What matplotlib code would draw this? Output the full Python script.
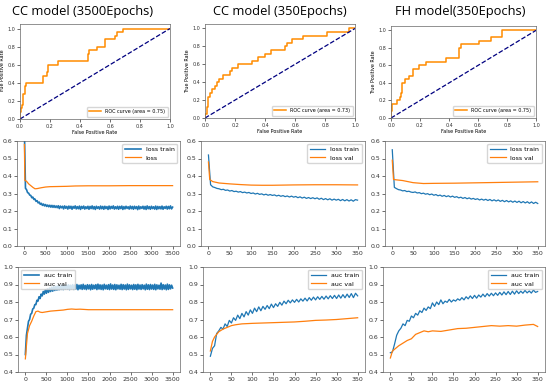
import numpy as np
import matplotlib.pyplot as plt

# ROC curves (fpr, tpr step points)
roc_a_fpr = [0, 0, 0.005, 0.01, 0.02, 0.03, 0.04, 0.155, 0.18, 0.185, 0.25, 0.45, 0.458, 0.51, 0.565, 0.63, 0.645, 0.685, 1.0]
roc_a_tpr = [0, 0.08, 0.12, 0.16, 0.28, 0.36, 0.40, 0.48, 0.52, 0.60, 0.64, 0.72, 0.76, 0.80, 0.88, 0.92, 0.96, 1.0, 1.0]
roc_b_fpr = [0, 0, 0.015, 0.02, 0.03, 0.045, 0.065, 0.08, 0.095, 0.12, 0.165, 0.18, 0.22, 0.31, 0.35, 0.40, 0.44, 0.53, 0.545, 0.58, 0.65, 0.81, 0.96, 1.0]
roc_b_tpr = [0, 0.04, 0.12, 0.24, 0.28, 0.32, 0.36, 0.40, 0.44, 0.48, 0.52, 0.56, 0.60, 0.64, 0.68, 0.72, 0.76, 0.80, 0.84, 0.88, 0.92, 0.96, 1.0, 1.0]
roc_c_fpr = [0, 0, 0.005, 0.01, 0.04, 0.065, 0.07, 0.075, 0.095, 0.125, 0.15, 0.155, 0.19, 0.24, 0.38, 0.47, 0.48, 0.61, 0.69, 0.765, 1.0]
roc_c_tpr = [0, 0.08, 0.12, 0.16, 0.20, 0.24, 0.28, 0.40, 0.44, 0.48, 0.52, 0.56, 0.60, 0.64, 0.68, 0.80, 0.84, 0.88, 0.92, 1.0, 1.0]
roc_auc = [0.75, 0.73, 0.75]

titles = ['CC model (3500Epochs)', 'CC model (350Epochs)', 'FH model(350Epochs)']

# CC model, 3500 epochs (train sampled every 25 epochs)
ep_a = np.arange(0, 3501, 25)
loss_train_a = [0.66, 0.33, 0.322, 0.305, 0.302, 0.291, 0.289, 0.276, 0.279, 0.266,
                0.268, 0.255, 0.259, 0.246, 0.251, 0.238, 0.244, 0.232, 0.240, 0.229,
                0.237, 0.226, 0.234, 0.224, 0.233, 0.222, 0.232, 0.221, 0.231, 0.220,
                0.229, 0.219, 0.230, 0.214, 0.228, 0.218, 0.227, 0.212, 0.229, 0.216,
                0.226, 0.211, 0.228, 0.215, 0.227, 0.210, 0.226, 0.216, 0.229, 0.212,
                0.225, 0.213, 0.228, 0.209, 0.226, 0.215, 0.228, 0.211, 0.224, 0.214,
                0.227, 0.210, 0.226, 0.214, 0.229, 0.212, 0.225, 0.209, 0.227, 0.215,
                0.224, 0.211, 0.228, 0.213, 0.226, 0.210, 0.227, 0.214, 0.225, 0.209,
                0.228, 0.212, 0.226, 0.215, 0.229, 0.211, 0.224, 0.213, 0.227, 0.210,
                0.226, 0.214, 0.228, 0.209, 0.225, 0.212, 0.227, 0.215, 0.224, 0.211,
                0.228, 0.213, 0.226, 0.210, 0.227, 0.214, 0.225, 0.208, 0.228, 0.212,
                0.224, 0.215, 0.227, 0.211, 0.226, 0.209, 0.229, 0.213, 0.225, 0.210,
                0.227, 0.214, 0.224, 0.211, 0.228, 0.209, 0.226, 0.213, 0.225, 0.212,
                0.228, 0.210, 0.224, 0.215, 0.227, 0.211, 0.226, 0.213, 0.229, 0.212,
                0.222]
ep_val_loss_a = [0, 10, 50, 100, 150, 200, 250, 300, 400, 500, 600, 800, 1000, 1200, 1500, 2000, 2500, 3000, 3500]
loss_val_a = [0.58, 0.375, 0.37, 0.355, 0.345, 0.335, 0.327, 0.328, 0.333, 0.337, 0.339, 0.340, 0.341, 0.343, 0.344, 0.344, 0.345, 0.345, 0.345]
auc_train_a = [0.50, 0.61, 0.65, 0.69, 0.70, 0.73, 0.735, 0.76, 0.765, 0.785,
               0.785, 0.81, 0.805, 0.83, 0.82, 0.845, 0.835, 0.86, 0.845, 0.87,
               0.85, 0.875, 0.855, 0.88, 0.86, 0.885, 0.862, 0.888, 0.866, 0.89,
               0.868, 0.893, 0.870, 0.892, 0.872, 0.896, 0.871, 0.895, 0.874, 0.897,
               0.873, 0.898, 0.871, 0.896, 0.875, 0.899, 0.872, 0.897, 0.874, 0.900,
               0.870, 0.896, 0.875, 0.898, 0.872, 0.901, 0.874, 0.895, 0.871, 0.899,
               0.875, 0.897, 0.870, 0.900, 0.873, 0.896, 0.876, 0.899, 0.871, 0.902,
               0.874, 0.898, 0.872, 0.897, 0.870, 0.901, 0.875, 0.896, 0.873, 0.899,
               0.871, 0.903, 0.874, 0.897, 0.872, 0.900, 0.870, 0.898, 0.875, 0.896,
               0.873, 0.901, 0.871, 0.899, 0.874, 0.897, 0.870, 0.902, 0.872, 0.898,
               0.875, 0.896, 0.871, 0.900, 0.873, 0.898, 0.870, 0.901, 0.874, 0.897,
               0.872, 0.899, 0.875, 0.896, 0.870, 0.902, 0.873, 0.898, 0.871, 0.900,
               0.874, 0.897, 0.872, 0.901, 0.870, 0.898, 0.875, 0.896, 0.873, 0.908,
               0.871, 0.899, 0.874, 0.897, 0.870, 0.902, 0.872, 0.898, 0.875, 0.896,
               0.880]
ep_val_auc_a = [0, 25, 50, 100, 150, 200, 250, 300, 350, 400, 500, 600, 700, 800, 900, 1000, 1100, 1200, 1300, 1500, 2000, 2500, 3000, 3500]
auc_val_a = [0.475, 0.55, 0.62, 0.665, 0.69, 0.72, 0.745, 0.748, 0.742, 0.74, 0.744, 0.748, 0.75, 0.752, 0.754, 0.758, 0.760, 0.758, 0.759, 0.756, 0.756, 0.756, 0.756, 0.756]

# 350-epoch runs (train sampled every 5 epochs)
ep_b = np.arange(0, 351, 5)
loss_train_b = [0.52, 0.35, 0.338, 0.334, 0.329, 0.327, 0.322, 0.324, 0.318, 0.320,
                0.314, 0.317, 0.311, 0.313, 0.308, 0.311, 0.305, 0.308, 0.303, 0.306,
                0.300, 0.303, 0.297, 0.301, 0.295, 0.298, 0.292, 0.296, 0.290, 0.294,
                0.289, 0.292, 0.286, 0.290, 0.284, 0.288, 0.282, 0.286, 0.280, 0.285,
                0.279, 0.283, 0.276, 0.281, 0.274, 0.279, 0.272, 0.277, 0.271, 0.276,
                0.270, 0.275, 0.267, 0.273, 0.265, 0.271, 0.264, 0.270, 0.262, 0.268,
                0.262, 0.267, 0.259, 0.266, 0.258, 0.265, 0.257, 0.264, 0.256, 0.265,
                0.262]
ep_val_loss_b = [0, 3, 10, 25, 50, 75, 100, 125, 150, 175, 200, 250, 300, 350]
loss_val_b = [0.48, 0.38, 0.368, 0.36, 0.355, 0.351, 0.348, 0.347, 0.347, 0.348, 0.349, 0.350, 0.350, 0.349]
auc_train_b = [0.49, 0.535, 0.55, 0.62, 0.635, 0.655, 0.645, 0.675, 0.66, 0.695,
               0.68, 0.71, 0.695, 0.725, 0.705, 0.735, 0.715, 0.745, 0.725, 0.755,
               0.735, 0.765, 0.745, 0.772, 0.75, 0.775, 0.758, 0.78, 0.762, 0.788,
               0.768, 0.79, 0.775, 0.798, 0.782, 0.805, 0.79, 0.81, 0.795, 0.812,
               0.798, 0.815, 0.80, 0.818, 0.805, 0.822, 0.806, 0.825, 0.81, 0.828,
               0.812, 0.83, 0.815, 0.832, 0.816, 0.834, 0.818, 0.836, 0.82, 0.838,
               0.82, 0.84, 0.822, 0.842, 0.824, 0.845, 0.826, 0.848, 0.825, 0.85,
               0.835]
ep_val_auc_b = [0, 5, 10, 15, 20, 30, 40, 50, 60, 75, 100, 125, 150, 175, 200, 225, 250, 275, 300, 325, 350]
auc_val_b = [0.52, 0.575, 0.60, 0.615, 0.63, 0.645, 0.655, 0.665, 0.67, 0.675, 0.678, 0.68, 0.682, 0.684, 0.686, 0.69, 0.695, 0.697, 0.70, 0.705, 0.71]

loss_train_c = [0.55, 0.335, 0.328, 0.322, 0.320, 0.315, 0.317, 0.311, 0.313, 0.308,
                0.306, 0.309, 0.303, 0.305, 0.299, 0.302, 0.296, 0.299, 0.293, 0.297,
                0.290, 0.294, 0.287, 0.291, 0.284, 0.289, 0.282, 0.287, 0.280, 0.285,
                0.278, 0.282, 0.275, 0.279, 0.272, 0.277, 0.270, 0.275, 0.268, 0.272,
                0.266, 0.270, 0.263, 0.268, 0.262, 0.267, 0.260, 0.266, 0.258, 0.264,
                0.257, 0.263, 0.255, 0.261, 0.253, 0.260, 0.252, 0.258, 0.250, 0.257,
                0.249, 0.256, 0.247, 0.254, 0.246, 0.253, 0.244, 0.252, 0.243, 0.250,
                0.243]
ep_val_loss_c = [0, 3, 10, 25, 50, 75, 100, 150, 200, 250, 300, 350]
loss_val_c = [0.49, 0.38, 0.378, 0.374, 0.362, 0.357, 0.358, 0.359, 0.361, 0.363, 0.365, 0.367]
auc_train_c = [0.51, 0.515, 0.56, 0.61, 0.635, 0.65, 0.675, 0.665, 0.695, 0.69,
               0.72, 0.71, 0.735, 0.725, 0.75, 0.74, 0.765, 0.752, 0.772, 0.762,
               0.795, 0.775, 0.80, 0.785, 0.812, 0.79, 0.805, 0.798, 0.815, 0.80,
               0.812, 0.805, 0.818, 0.81, 0.825, 0.812, 0.83, 0.818, 0.835, 0.82,
               0.838, 0.822, 0.84, 0.828, 0.845, 0.83, 0.848, 0.834, 0.85, 0.836,
               0.852, 0.838, 0.855, 0.84, 0.858, 0.842, 0.86, 0.843, 0.862, 0.845,
               0.864, 0.848, 0.862, 0.85, 0.866, 0.852, 0.863, 0.851, 0.868, 0.855,
               0.86]
ep_val_auc_c = [0, 5, 10, 20, 30, 40, 50, 60, 70, 80, 90, 100, 120, 140, 160, 180, 200, 220, 240, 260, 280, 300, 320, 340, 350]
auc_val_c = [0.48, 0.52, 0.53, 0.55, 0.565, 0.58, 0.59, 0.615, 0.625, 0.635, 0.63, 0.635,
             0.632, 0.64, 0.648, 0.65, 0.655, 0.66, 0.665, 0.662, 0.665, 0.662, 0.668, 0.672, 0.66]

W, H = 550, 386
fig = plt.figure(figsize=(W / 100, H / 100), dpi=100)


def add_ax(x0, top, x1, bottom):
    # pixel box -> figure fraction
    return fig.add_axes([x0 / W, 1 - bottom / H, (x1 - x0) / W, (bottom - top) / H])


def style(ax, fs):
    ax.tick_params(labelsize=fs, length=2, width=0.5, pad=1.5, colors='#333333')
    for s in ax.spines.values():
        s.set_linewidth(0.5)
        s.set_color('#666666')


# --- row 1: ROC curves
roc_boxes = [(20, 24, 170, 119), (205, 24, 355, 118), (391, 26, 536, 118)]
roc_data = [(roc_a_fpr, roc_a_tpr), (roc_b_fpr, roc_b_tpr), (roc_c_fpr, roc_c_tpr)]
title_x = [83, 280, 460]
for i in range(3):
    ax = add_ax(*roc_boxes[i])
    fpr, tpr = roc_data[i]
    ax.step(fpr, tpr, where='post', color='darkorange', lw=1.1,
            label='ROC curve (area = %0.2f)' % roc_auc[i])
    ax.plot([0, 1], [0, 1], color='navy', lw=0.9, linestyle='--')
    ax.set_xlim(0.0, 1.0)
    ax.set_ylim(0.0, 1.05)
    ax.set_xticks(np.arange(0, 1.01, 0.2))
    ax.set_yticks(np.arange(0, 1.01, 0.2))
    ax.set_xlabel('False Positive Rate', fontsize=3.5, labelpad=1)
    ax.set_ylabel('True Positive Rate', fontsize=3.5, labelpad=1.5)
    style(ax, 3.5)
    ax.legend(loc='lower right', fontsize=3.5, handlelength=2.5, borderpad=0.5)
    fig.text(title_x[i] / W, 1 - 12 / H, titles[i], ha='center', va='center',
             fontsize=9.3, family='Open Sans')

# --- row 2: loss curves
loss_boxes = [(17, 141, 180, 246), (201, 141, 365, 246), (385, 141, 545, 246)]
loss_sets = [
    (ep_a, loss_train_a, ep_val_loss_a, loss_val_a, 'loss'),
    (ep_b, loss_train_b, ep_val_loss_b, loss_val_b, 'loss val'),
    (ep_b, loss_train_c, ep_val_loss_c, loss_val_c, 'loss val'),
]
for i in range(3):
    ax = add_ax(*loss_boxes[i])
    ep_t, tr, ep_v, va, vlab = loss_sets[i]
    ax.plot(ep_t, tr, color='tab:blue', lw=1.2 if i == 0 else 0.9, label='loss train')
    ax.plot(ep_v, va, color='tab:orange', lw=0.9, label=vlab)
    ax.set_ylim(0.0, 0.6)
    if i == 0:
        ax.set_xticks(np.arange(0, 3501, 500))
    else:
        ax.set_xticks(np.arange(0, 351, 50))
    style(ax, 4.5)
    ax.legend(loc='upper right', fontsize=4.5, handlelength=2.5)

# --- row 3: auc curves
auc_boxes = [(18, 267, 180, 372), (203, 267, 365, 372), (383, 267, 545, 372)]
auc_sets = [
    (ep_a, auc_train_a, ep_val_auc_a, auc_val_a),
    (ep_b, auc_train_b, ep_val_auc_b, auc_val_b),
    (ep_b, auc_train_c, ep_val_auc_c, auc_val_c),
]
for i in range(3):
    ax = add_ax(*auc_boxes[i])
    ep_t, tr, ep_v, va = auc_sets[i]
    ax.plot(ep_t, tr, color='tab:blue', lw=1.2 if i == 0 else 0.9, label='auc train')
    ax.plot(ep_v, va, color='tab:orange', lw=0.9, label='auc val')
    ax.set_ylim(0.4, 1.0)
    if i == 0:
        ax.set_xticks(np.arange(0, 3501, 500))
    else:
        ax.set_xticks(np.arange(0, 351, 50))
    style(ax, 4.5)
    ax.legend(loc='upper left' if i == 0 else 'upper right', fontsize=4.5, handlelength=2.5)

fig.savefig('out.png', dpi=100)
